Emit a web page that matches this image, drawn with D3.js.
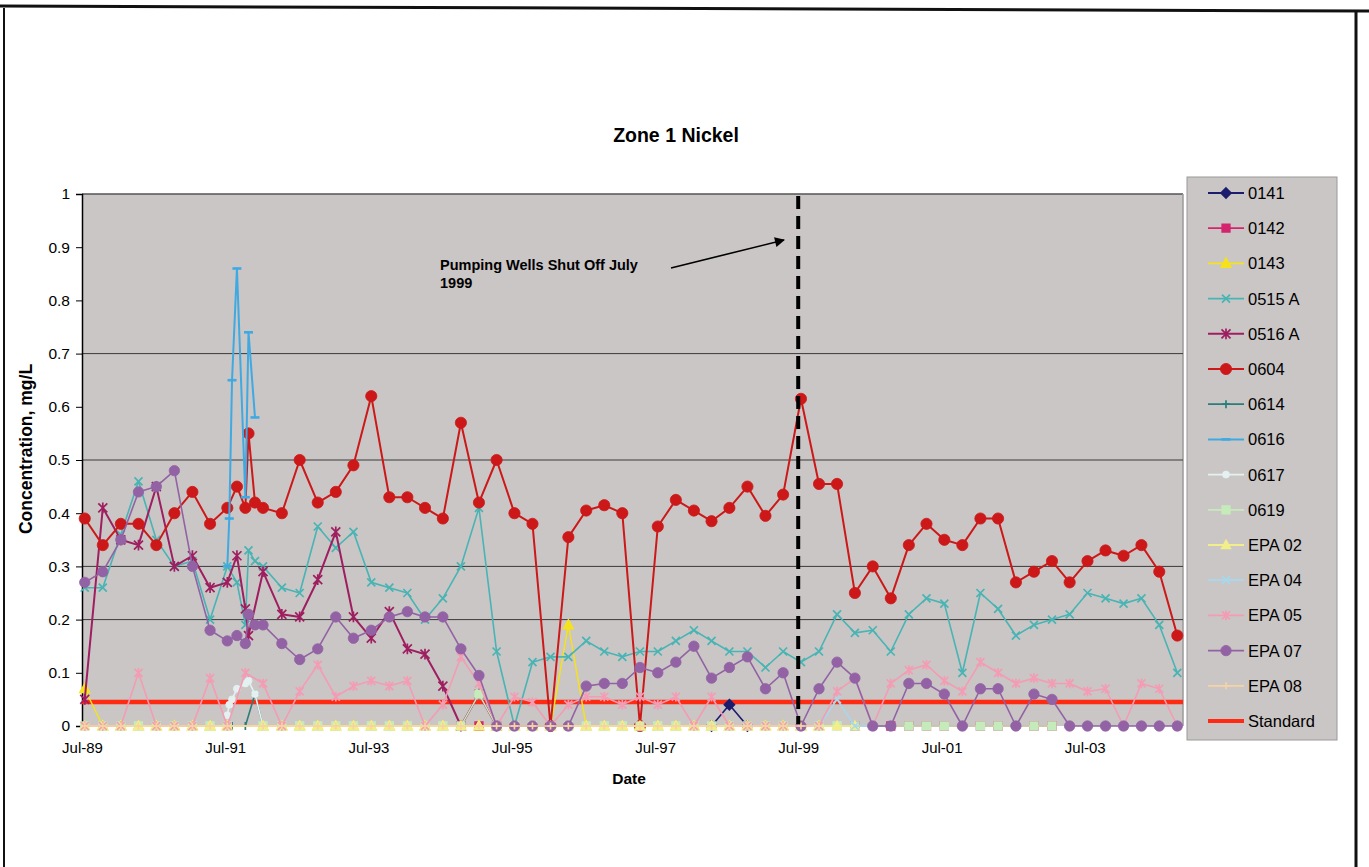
<!DOCTYPE html>
<html><head><meta charset="utf-8">
<script src="https://cdn.jsdelivr.net/npm/d3@7"></script>
<style>
body{margin:0;background:#fff;}
svg{display:block;}
text{font-family:"Liberation Sans",Arial,Helvetica,sans-serif;fill:#000;}
</style>
</head><body>
<svg id="chart" width="1369" height="867"></svg>
<script>
const _ = null;

// ---------------- DATA ----------------
const chartTitle = "Zone 1 Nickel";
const yTitle = "Concentration, mg/L";
const xTitle = "Date";
const annotationLines = ["Pumping Wells Shut Off July", "1999"];

const yTicks = [0, 0.1, 0.2, 0.3, 0.4, 0.5, 0.6, 0.7, 0.8, 0.9, 1];
const yTickLabels = ["0", "0.1", "0.2", "0.3", "0.4", "0.5", "0.6", "0.7", "0.8", "0.9", "1"];
const gridValues = [0.2, 0.3, 0.5, 0.7];
const xTickDates = ["1989-07-01","1991-07-01","1993-07-01","1995-07-01","1997-07-01","1999-07-01","2001-07-01","2003-07-01"];
const xTickLabels = ["Jul-89","Jul-91","Jul-93","Jul-95","Jul-97","Jul-99","Jul-01","Jul-03"];
const xDomain = ["1989-07-01", "2004-11-13"];

const sampleDates = [
"1989-07-15","1989-10-15","1990-01-15","1990-04-15","1990-07-15","1990-10-15","1991-01-15","1991-04-15","1991-07-12","1991-07-22",
"1991-08-05","1991-08-30","1991-10-12","1991-10-28","1991-11-30","1992-01-10","1992-04-15","1992-07-15","1992-10-15","1993-01-15",
"1993-04-15","1993-07-15","1993-10-15","1994-01-15","1994-04-15","1994-07-15","1994-10-15","1995-01-15","1995-04-15","1995-07-15",
"1995-10-15","1996-01-15","1996-04-15","1996-07-15","1996-10-15","1997-01-15","1997-04-15","1997-07-15","1997-10-15","1998-01-15",
"1998-04-15","1998-07-15","1998-10-15","1999-01-15","1999-04-15","1999-07-15","1999-10-15","2000-01-15","2000-04-15","2000-07-15",
"2000-10-15","2001-01-15","2001-04-15","2001-07-15","2001-10-15","2002-01-15","2002-04-15","2002-07-15","2002-10-15","2003-01-15",
"2003-04-15","2003-07-15","2003-10-15","2004-01-15","2004-04-15","2004-07-15","2004-10-15"];

const seriesNames = ["0141","0142","0143","0515 A","0516 A","0604","0614","0616","0617","0619","EPA 02","EPA 04","EPA 05","EPA 07","EPA 08"];

const w0141 = [
_,_,_,_,_,_,_,_,_,_,  _,_,_,_,_,_,_,_,_,_,  _,_,_,_,_,_,_,_,_,_,  _,_,_,_,_,_,_,_,_,_,
0,0.04,0,_,_,_,_,_,_,_,  _,_,_,_,_,_,_,_,_,_,  _,_,_,_,_,_,_];
const w0142 = [
_,_,_,_,_,_,_,_,_,_,  _,_,_,_,_,_,_,_,_,_,  _,_,_,_,_,_,0,0,_,_,  _,_,_,_,_,_,_,_,_,_,
_,_,_,_,_,_,_,_,0,_,  0,0,0,0,_,0,0,_,0,0,  _,_,_,_,_,_,_];
const w0143 = [
0.07,0,0,0,0,0,0,0,0,_,  _,_,_,_,_,0,0,0,0,0,  0,0,0,0,0,0,0,0,0,0,  0,0,0.19,0,0,0,0,0,0,0,
0,0,0,0,0,0,0,_,_,_,  _,_,_,_,_,_,_,_,_,_,  _,_,_,_,_,_,_];
const w0515A = [
0.26,0.26,0.36,0.46,0.35,0.30,0.31,0.20,0.30,_,
_,0.27,0.19,0.33,0.31,0.30,0.26,0.25,0.375,0.335,
0.365,0.27,0.26,0.25,0.20,0.24,0.30,0.41,0.14,0,
0.12,0.13,0.13,0.16,0.14,0.13,0.14,0.14,0.16,0.18,
0.16,0.14,0.14,0.11,0.14,0.12,0.14,0.21,0.175,0.18,
0.14,0.21,0.24,0.23,0.10,0.25,0.22,0.17,0.19,0.20,
0.21,0.25,0.24,0.23,0.24,0.19,0.10];
const w0516A = [
0.05,0.41,0.35,0.34,0.45,0.30,0.32,0.26,0.27,_,
_,0.32,0.22,0.17,_,0.29,0.21,0.205,0.275,0.365,
0.205,0.165,0.215,0.145,0.135,0.075,0,0.06,0,_,
_,_,_,_,_,_,_,_,_,_,  _,_,_,_,_,_,_,_,_,_,  _,_,_,_,_,_,_,_,_,_,  _,_,_,_,_,_,_];
const w0604 = [
0.39,0.34,0.38,0.38,0.34,0.40,0.44,0.38,0.41,_,
_,0.45,0.41,0.55,0.42,0.41,0.40,0.50,0.42,0.44,
0.49,0.62,0.43,0.43,0.41,0.39,0.57,0.42,0.50,0.40,
0.38,0,0.355,0.405,0.415,0.40,0,0.375,0.425,0.405,
0.385,0.41,0.45,0.395,0.435,0.615,0.455,0.455,0.25,0.30,
0.24,0.34,0.38,0.35,0.34,0.39,0.39,0.27,0.29,0.31,
0.27,0.31,0.33,0.32,0.34,0.29,0.17];
const w0614 = [
_,_,_,_,_,_,_,_,_,_,  0,_,0,_,0.06,0,_,_,_,_,  _,_,_,_,_,_,_,_,_,_,  _,_,_,_,_,_,_,_,_,_,
_,_,_,_,_,_,_,_,_,_,  _,_,_,_,_,_,_,_,_,_,  _,_,_,_,_,_,_];
const w0616 = [
_,_,_,_,_,_,_,_,0.30,0.39,  0.65,0.86,0.43,0.74,0.58,_,_,_,_,_,  _,_,_,_,_,_,_,_,_,_,  _,_,_,_,_,_,_,_,_,_,
_,_,_,_,_,_,_,_,_,_,  _,_,_,_,_,_,_,_,_,_,  _,_,_,_,_,_,_];
const w0617 = [
_,_,_,_,_,_,_,_,0.02,0.04,  0.05,0.07,0.08,0.085,0.06,0,_,_,_,_,  _,_,_,_,_,_,_,_,_,_,  _,_,_,_,_,_,_,_,_,_,
_,_,_,_,_,_,_,_,_,_,  _,_,_,_,_,_,_,_,_,_,  _,_,_,_,_,_,_];
const w0619 = [
0,0,0,0,0,0,0,0,0,_,  _,_,_,_,_,0,0,0,0,0,  0,0,0,0,0,0,0,0.06,0,0,  0,0,0,0,0,0,0,0,0,0,
0,0,0,0,0,0,0,0,0,_,  _,0,0,0,_,0,0,_,0,0,  _,_,_,_,_,_,_];
const wEPA02 = [
0,0,0,0,0,0,0,0,0,_,  _,_,_,_,_,0,0,0,0,0,  0,0,0,0,0,0,0,0,0,0,  0,0,0,0,0,0,0,0,0,0,
0,0,0,0,0,0,0,0,0,_,  _,_,_,_,_,_,_,_,_,_,  _,_,_,_,_,_,_];
const wEPA04 = [
_,_,_,_,_,_,_,_,_,_,  _,_,_,_,_,_,_,_,_,_,  _,_,_,_,_,_,_,_,_,_,  _,_,_,_,_,_,_,_,_,_,
_,_,_,_,_,_,0,0.05,0,0,  _,_,_,_,_,_,_,_,_,_,  _,_,_,_,_,_,_];
const wEPA05 = [
0,0,0,0.10,0,0,0,0.09,0,_,
_,_,0.10,_,_,0.08,0,0.065,0.115,0.055,
0.075,0.085,0.075,0.085,0,0.04,0.13,0.08,0,0.055,
0.045,0,0.04,0.055,0.055,0.04,0.055,0.04,0.055,0,
0.055,0,0,0,0,0,0,0.065,0.09,0,
0.08,0.105,0.115,0.085,0.065,0.12,0.10,0.08,0.09,0.08,
0.08,0.065,0.07,0,0.08,0.07,0];
const wEPA07 = [
0.27,0.29,0.35,0.44,0.45,0.48,0.30,0.18,0.16,_,
_,0.17,0.155,0.21,0.19,0.19,0.155,0.125,0.145,0.205,
0.165,0.18,0.205,0.215,0.205,0.205,0.145,0.095,0,0,
0,0,0,0.075,0.08,0.08,0.11,0.10,0.12,0.15,
0.09,0.11,0.13,0.07,0.10,0,0.07,0.12,0.09,0,
0,0.08,0.08,0.06,0,0.07,0.07,0,0.06,0.05,
0,0,0,0,0,0,0];
const wEPA08 = [
0,0,0,0,0,0,0,0,0,_,  _,_,_,_,_,0,0,0,0,0,  0,0,0,0,0,0,0,0,0,0,  0,0,0,0,0,0,0,0,0,0,
0,0,0,0,0,0,0,_,_,_,  _,_,_,_,_,_,_,_,_,_,  _,_,_,_,_,_,_];

const standardName = "Standard";
const standardValue = 0.045;
const shutOffDate = "1999-07-01";

const seriesValues = [w0141,w0142,w0143,w0515A,w0516A,w0604,w0614,w0616,w0617,w0619,wEPA02,wEPA04,wEPA05,wEPA07,wEPA08];

// ---------------- STYLES ----------------
const seriesStyles = [
 {color:"#1c1c6e", marker:"diamond",  size:5,   lw:1.6},
 {color:"#d4246e", marker:"square",   size:3.8, lw:1.5},
 {color:"#f5e21c", marker:"triangle", size:5,   lw:1.5},
 {color:"#48b4b4", marker:"x",        size:4,   lw:1.6},
 {color:"#9e1e60", marker:"asterisk", size:4.5, lw:2},
 {color:"#cc1818", marker:"circle",   size:5.6, lw:2},
 {color:"#2b7d7a", marker:"plus",     size:4,   lw:1.6},
 {color:"#3fa9e2", marker:"dash",     size:4.5, lw:2},
 {color:"#e4f1f1", marker:"circle",   size:3.5, lw:1.6},
 {color:"#c6ebba", marker:"square",   size:3.8, lw:1.5},
 {color:"#f2ee8a", marker:"triangle", size:4.5, lw:1.5},
 {color:"#a6d8ee", marker:"x",        size:4,   lw:1.5},
 {color:"#f39cb4", marker:"asterisk", size:4,   lw:1.6},
 {color:"#9262a4", marker:"circle",   size:5.2, lw:1.6},
 {color:"#f6d3a2", marker:"plus",     size:3.5, lw:1.5}
];
const standardColor = "#ff2a12";

// ---------------- CHART ----------------
const svg = d3.select("#chart");
const parse = d3.timeParse("%Y-%m-%d");
const W = 1369, H = 867;
const plot = {left:82, right:1183, top:194, bottom:726};

const x = d3.scaleTime().domain(xDomain.map(parse)).range([plot.left, plot.right]);
const y = d3.scaleLinear().domain([0,1]).range([plot.bottom, plot.top]);

// frame
svg.append("rect").attr("width",W).attr("height",H).attr("fill","#fff");
svg.append("line").attr("x1",0).attr("y1",6).attr("x2",W).attr("y2",11).attr("stroke","#111").attr("stroke-width",3);
svg.append("line").attr("x1",4).attr("y1",8).attr("x2",4).attr("y2",H).attr("stroke","#111").attr("stroke-width",2);
svg.append("line").attr("x1",1356).attr("y1",10).attr("x2",1356).attr("y2",H).attr("stroke","#111").attr("stroke-width",3);

// title
svg.append("text").attr("x",676).attr("y",142).attr("text-anchor","middle")
  .attr("font-size",19.5).attr("font-weight","bold").text(chartTitle);

// plot area
svg.append("rect").attr("x",plot.left).attr("y",plot.top)
  .attr("width",plot.right-plot.left).attr("height",plot.bottom-plot.top)
  .attr("fill","#cac6c5");
svg.append("line").attr("x1",plot.left).attr("x2",plot.right).attr("y1",plot.top).attr("y2",plot.top)
  .attr("stroke","#555").attr("stroke-width",1.5);
svg.append("line").attr("x1",plot.right).attr("x2",plot.right).attr("y1",plot.top).attr("y2",plot.bottom)
  .attr("stroke","#9a9a9a").attr("stroke-width",1.5);

// grid
svg.append("g").selectAll("line").data(gridValues).join("line")
  .attr("x1",plot.left).attr("x2",plot.right)
  .attr("y1",d=>y(d)).attr("y2",d=>y(d))
  .attr("stroke","#3a3a3a").attr("stroke-width",1);

// y axis
const yAxis = svg.append("g").attr("transform",`translate(${plot.left},0)`)
  .call(d3.axisLeft(y).tickValues(yTicks).tickFormat((d,i)=>yTickLabels[i]).tickSize(6).tickPadding(6));
yAxis.select(".domain").attr("stroke","#000").attr("stroke-width",1.5);
yAxis.selectAll(".tick line").attr("stroke","#000");
yAxis.selectAll("text").attr("font-size",15.5).attr("font-family",'"Liberation Sans",Arial,sans-serif');

// x axis
const xAxis = svg.append("g").attr("transform",`translate(0,${plot.bottom})`)
  .call(d3.axisBottom(x).tickValues(xTickDates.map(parse)).tickFormat((d,i)=>xTickLabels[i]).tickSize(0).tickPadding(16));
xAxis.select(".domain").remove();
xAxis.selectAll("text").attr("font-size",15).attr("font-family",'"Liberation Sans",Arial,sans-serif');

// axis titles
svg.append("text").attr("transform","translate(32,449) rotate(-90)").attr("text-anchor","middle")
  .attr("font-size",17.5).attr("font-weight","bold").text(yTitle);
svg.append("text").attr("x",629).attr("y",784).attr("text-anchor","middle")
  .attr("font-size",15.5).attr("font-weight","bold").text(xTitle);

// marker helpers
function markerPath(type, h){
  switch(type){
    case "diamond": return `M0,${-h}L${h},0L0,${h}L${-h},0Z`;
    case "square": return `M${-h},${-h}H${h}V${h}H${-h}Z`;
    case "triangle": return `M0,${-h}L${h*0.95},${h*0.75}L${-h*0.95},${h*0.75}Z`;
    case "x": return `M${-h},${-h}L${h},${h}M${-h},${h}L${h},${-h}`;
    case "asterisk": return `M${-h},${-h}L${h},${h}M${-h},${h}L${h},${-h}M0,${-h*1.2}L0,${h*1.2}`;
    case "plus": return `M${-h},0H${h}M0,${-h}V${h}`;
    case "dash": return `M${-h},0H${h}`;
  }
  return "";
}
function drawMarker(g, type, color, h, cx, cy){
  if(type==="circle"){
    g.append("circle").attr("cx",cx).attr("cy",cy).attr("r",h).attr("fill",color).attr("stroke",color).attr("stroke-width",0.8);
  } else {
    const filled = ["diamond","square","triangle"].includes(type);
    g.append("path").attr("transform",`translate(${cx},${cy})`).attr("d",markerPath(type,h))
      .attr("fill",filled?color:"none").attr("stroke",color)
      .attr("stroke-width", type==="dash"?2.6:1.7);
  }
}

const dates = sampleDates.map(parse);

// standard line (drawn beneath data)
svg.append("line").attr("x1",x.range()[0]).attr("x2",x.range()[1])
  .attr("y1",y(standardValue)).attr("y2",y(standardValue))
  .attr("stroke",standardColor).attr("stroke-width",4.5);

const line = d3.line().x(d=>x(d.date)).y(d=>y(d.v));
const dataG = svg.append("g");
seriesNames.forEach((name,i)=>{
  const st = seriesStyles[i];
  const pts = seriesValues[i].map((v,k)=>({date:dates[k], v})).filter(d=>d.v!==null);
  const g = dataG.append("g");
  g.append("path").datum(pts).attr("d",line).attr("fill","none")
    .attr("stroke",st.color).attr("stroke-width",st.lw).attr("stroke-linejoin","round");
  pts.forEach(p=>drawMarker(g, st.marker, st.color, st.size, x(p.date), y(p.v)));
});

// shut-off dashed line
svg.append("line").attr("x1",x(parse(shutOffDate))).attr("x2",x(parse(shutOffDate)))
  .attr("y1",y(1)+2).attr("y2",y(0)-2)
  .attr("stroke","#000").attr("stroke-width",4).attr("stroke-dasharray","13,7");

// annotation
const ann = svg.append("text").attr("font-size",14.5).attr("font-weight","bold");
annotationLines.forEach((t,i)=>ann.append("tspan").attr("x",440).attr("y",270+i*18).text(t));
svg.append("defs").append("marker").attr("id","arr").attr("viewBox","0 0 10 10")
  .attr("refX",9).attr("refY",5).attr("markerWidth",14).attr("markerHeight",10)
  .attr("markerUnits","userSpaceOnUse").attr("orient","auto")
  .append("path").attr("d","M0,0L10,5L0,10Z").attr("fill","#000");
svg.append("line").attr("x1",671).attr("y1",268).attr("x2",784).attr("y2",240)
  .attr("stroke","#000").attr("stroke-width",1.6).attr("marker-end","url(#arr)");

// legend
const leg = svg.append("g");
leg.append("rect").attr("x",1187).attr("y",177).attr("width",150).attr("height",563)
  .attr("fill","#cac6c5").attr("stroke","#9a9a9a").attr("stroke-width",1);
const legNames = seriesNames.concat([standardName]);
legNames.forEach((name,i)=>{
  const cy = 193 + i*35.2;
  const g = leg.append("g");
  if(i < seriesNames.length){
    const st = seriesStyles[i];
    g.append("line").attr("x1",1208).attr("x2",1244).attr("y1",cy).attr("y2",cy)
      .attr("stroke",st.color).attr("stroke-width",Math.max(st.lw,1.8));
    drawMarker(g, st.marker, st.color, st.size, 1226, cy);
  } else {
    g.append("line").attr("x1",1208).attr("x2",1244).attr("y1",cy).attr("y2",cy)
      .attr("stroke",standardColor).attr("stroke-width",4);
  }
  g.append("text").attr("x",1248).attr("y",cy).attr("dy","0.36em").attr("font-size",16.5).text(name);
});
</script>
</body></html>
